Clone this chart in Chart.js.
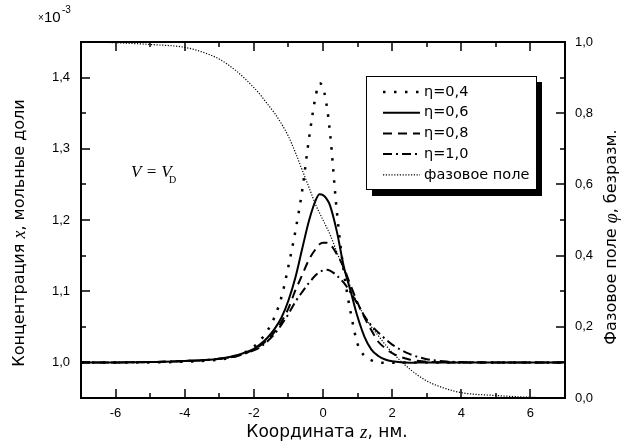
<!DOCTYPE html>
<html>
<head>
<meta charset="utf-8">
<script src="https://cdn.jsdelivr.net/npm/chart.js@4/dist/chart.umd.min.js"></script>
<style>
  body { margin: 0; background: #fff; }
  canvas { display: block; }
</style>
</head>
<body>
<canvas id="profiles" width="627" height="448"></canvas>
<script>
// coordinate z, nm
const zGrid = [-7, -6, -5, -4, -3.5, -3, -2.5, -2, -1.8, -1.6, -1.4, -1.2, -1.0, -0.8, -0.6, -0.4, -0.2, -0.1, 0,
  0.1, 0.2, 0.4, 0.6, 0.8, 1.0, 1.2, 1.4, 1.6, 1.8, 2.0, 2.5, 3, 3.5, 4, 5, 6, 7];

// concentration x (x10^-3) for each eta
const eta04 = [1.000, 1.000, 1.000, 1.001, 1.002, 1.004, 1.009, 1.022, 1.032, 1.045, 1.064, 1.092, 1.135, 1.184, 1.242, 1.316, 1.377, 1.392, 1.386,
  1.363, 1.324, 1.212, 1.128, 1.070, 1.026, 1.009, 1.003, 1.000, 0.9995, 0.9995, 1.000, 1.000, 1.000, 1.000, 1.000, 1.000, 1.000];
const eta06 = [1.000, 1.000, 1.0005, 1.002, 1.003, 1.005, 1.010, 1.019, 1.026, 1.035, 1.047, 1.063, 1.087, 1.119, 1.160, 1.200, 1.229, 1.236, 1.235,
  1.230, 1.221, 1.184, 1.135, 1.100, 1.064, 1.036, 1.018, 1.009, 1.004, 1.0015, 0.9995, 1.000, 1.000, 1.000, 1.000, 1.000, 1.000];
const eta08 = [1.000, 1.000, 1.0005, 1.002, 1.003, 1.005, 1.009, 1.018, 1.024, 1.032, 1.043, 1.057, 1.076, 1.101, 1.123, 1.145, 1.160, 1.166, 1.168,
  1.168, 1.166, 1.152, 1.133, 1.108, 1.084, 1.063, 1.045, 1.029, 1.020, 1.013, 1.004, 1.001, 1.000, 1.000, 1.000, 1.000, 1.000];
const eta10 = [1.000, 1.000, 1.0005, 1.002, 1.003, 1.005, 1.009, 1.017, 1.022, 1.030, 1.040, 1.053, 1.068, 1.085, 1.099, 1.112, 1.123, 1.127, 1.129,
  1.130, 1.129, 1.122, 1.112, 1.098, 1.082, 1.065, 1.052, 1.042, 1.033, 1.025, 1.012, 1.0045, 1.0015, 1.0005, 1.000, 1.000, 1.000];

// phase field phi (right axis)
const phase = [1.0, 0.998, 0.993, 0.985, 0.972, 0.952, 0.918, 0.872, 0.850, 0.825, 0.800, 0.770, 0.735, 0.690, 0.640, 0.590, 0.540, 0.520, 0.500,
  0.480, 0.460, 0.410, 0.360, 0.310, 0.265, 0.230, 0.200, 0.175, 0.150, 0.128, 0.082, 0.048, 0.028, 0.015, 0.007, 0.002, 0.0];

const seriesLabels = ['\u03b7=0,4', '\u03b7=0,6', '\u03b7=0,8', '\u03b7=1,0', 'фазовое поле'];

// ticks
const xMajor = [-6, -4, -2, 0, 2, 4, 6];
const xMinor = [-5, -3, -1, 1, 3, 5];
const yMajor = [1.0, 1.1, 1.2, 1.3, 1.4];
const yMinor = [1.05, 1.15, 1.25, 1.35];
const y2Major = [0, 0.2, 0.4, 0.6, 0.8, 1.0];
const y2Minor = [0.1, 0.3, 0.5, 0.7, 0.9];

const toPts = vals => vals.map((v, i) => ({ x: zGrid[i], y: v }));
const comma = v => v.toFixed(1).replace('.', ',');

function drawRuns(ctx, runs, x, y, angle) {
  ctx.save();
  ctx.translate(x, y);
  ctx.rotate(angle);
  let total = 0;
  runs.forEach(r => { ctx.font = r.font; r.w = ctx.measureText(r.text).width; total += r.w; });
  let cx = -total / 2;
  ctx.textAlign = 'left';
  ctx.textBaseline = 'middle';
  ctx.fillStyle = '#000';
  runs.forEach(r => { ctx.font = r.font; ctx.fillText(r.text, cx, r.dy || 0); cx += r.w; });
  ctx.restore();
}

const decor = {
  id: 'decor',
  afterDraw(chart) {
    const c = chart.ctx, a = chart.chartArea, sx = chart.scales.x, sy = chart.scales.y, sy2 = chart.scales.y2;
    c.save();
    c.strokeStyle = '#000';
    c.setLineDash([]);
    c.lineWidth = 1.5;

    // inward ticks on all four sides
    c.beginPath();
    [[xMajor, 9], [xMinor, 5]].forEach(([list, len]) => list.forEach(v => {
      const px = Math.round(sx.getPixelForValue(v));
      c.moveTo(px, a.bottom); c.lineTo(px, a.bottom - len);
      c.moveTo(px, a.top); c.lineTo(px, a.top + len);
    }));
    [[yMajor, 9], [yMinor, 5]].forEach(([list, len]) => list.forEach(v => {
      const py = Math.round(sy.getPixelForValue(v));
      c.moveTo(a.left, py); c.lineTo(a.left + len, py);
    }));
    [[y2Major, 9], [y2Minor, 5]].forEach(([list, len]) => list.forEach(v => {
      const py = Math.round(sy2.getPixelForValue(v));
      c.moveTo(a.right, py); c.lineTo(a.right - len, py);
    }));
    c.stroke();

    // frame
    c.lineWidth = 2;
    c.strokeRect(a.left, a.top, a.right - a.left, a.bottom - a.top);

    // legend box with shadow
    const lx = 366, ly = 76, lw = 170, lh = 113;
    c.fillStyle = '#000';
    c.fillRect(lx + 6, ly + 6, lw, lh + 1);
    c.fillStyle = '#fff';
    c.fillRect(lx, ly, lw, lh);
    c.lineWidth = 1;
    c.strokeRect(lx + 0.5, ly + 0.5, lw, lh);
    chart.data.datasets.forEach((ds, i) => {
      const ry = ly + 16 + i * 20.7;
      c.beginPath();
      c.lineWidth = ds.borderWidth;
      c.setLineDash(ds.borderDash || []);
      c.moveTo(383, ry); c.lineTo(420, ry);
      c.stroke();
      c.setLineDash([]);
      c.fillStyle = '#000';
      c.font = '14.5px "DejaVu Sans"';
      c.textAlign = 'left';
      c.textBaseline = 'middle';
      c.fillText(ds.label, 424, ry);
    });
    c.restore();

    // axis titles
    const sans = '16px "DejaVu Sans"';
    const ital = 'italic 18px "Liberation Serif"';
    drawRuns(c, [{ text: 'Концентрация ', font: sans }, { text: 'x', font: ital }, { text: ', мольные доли', font: sans }], 20, 233, -Math.PI / 2);
    drawRuns(c, [{ text: 'Фазовое поле ', font: sans }, { text: '\u03c6', font: ital }, { text: ', безразм.', font: sans }], 612, 237, -Math.PI / 2);
    drawRuns(c, [{ text: 'Координата ', font: '17px "DejaVu Sans"' }, { text: 'z', font: 'italic 19px "Liberation Serif"' }, { text: ', нм.', font: '17px "DejaVu Sans"' }], 327, 433, 0);

    // multiplier and annotation
    c.save();
    c.fillStyle = '#000';
    c.textAlign = 'left';
    c.textBaseline = 'alphabetic';
    c.font = '10px "Liberation Sans"';
    c.fillText('\u00d7', 38, 21);
    c.font = '15px "Liberation Sans"';
    c.fillText('10', 44, 22);
    c.font = '10px "Liberation Sans"';
    c.fillText('-3', 62, 13);
    c.font = 'italic 17px "Liberation Serif"';
    c.fillText('V = V', 131, 177);
    c.font = '10px "Liberation Serif"';
    c.fillText('D', 169, 183);
    c.restore();
  }
};

new Chart(document.getElementById('profiles').getContext('2d'), {
  type: 'line',
  data: {
    datasets: [
      { label: seriesLabels[0], data: toPts(eta04), yAxisID: 'y', borderColor: '#000', borderWidth: 2.5, borderDash: [2.5, 8.5] },
      { label: seriesLabels[1], data: toPts(eta06), yAxisID: 'y', borderColor: '#000', borderWidth: 2 },
      { label: seriesLabels[2], data: toPts(eta08), yAxisID: 'y', borderColor: '#000', borderWidth: 2, borderDash: [9, 6] },
      { label: seriesLabels[3], data: toPts(eta10), yAxisID: 'y', borderColor: '#000', borderWidth: 2, borderDash: [9, 4, 2, 4] },
      { label: seriesLabels[4], data: toPts(phase), yAxisID: 'y2', borderColor: '#000', borderWidth: 1.2, borderDash: [1.2, 1.6] }
    ]
  },
  options: {
    responsive: false,
    animation: false,
    layout: { padding: { top: 42, left: 0, right: 0, bottom: 0 } },
    elements: { point: { radius: 0 }, line: { cubicInterpolationMode: 'monotone', fill: false } },
    plugins: { legend: { display: false }, tooltip: { enabled: false } },
    scales: {
      x: {
        type: 'linear', min: -7, max: 7,
        grid: { display: false, drawTicks: false },
        border: { display: false },
        afterBuildTicks: s => { s.ticks = xMajor.map(v => ({ value: v })); },
        afterFit: s => { s.height = 50; },
        ticks: { padding: 8, color: '#000', font: { family: 'Liberation Sans', size: 13 }, callback: v => String(v) }
      },
      y: {
        position: 'left', min: 0.95, max: 1.45,
        grid: { display: false, drawTicks: false },
        border: { display: false },
        afterBuildTicks: s => { s.ticks = yMajor.map(v => ({ value: v })); },
        afterFit: s => { s.width = 81; },
        ticks: { padding: 11, color: '#000', font: { family: 'Liberation Sans', size: 13 }, callback: v => comma(v) }
      },
      y2: {
        position: 'right', min: 0, max: 1,
        grid: { display: false, drawTicks: false },
        border: { display: false },
        afterBuildTicks: s => { s.ticks = y2Major.map(v => ({ value: v })); },
        afterFit: s => { s.width = 62; },
        ticks: { padding: 10, color: '#000', font: { family: 'Liberation Sans', size: 13 }, callback: v => comma(v) }
      }
    }
  },
  plugins: [decor]
});
</script>
</body>
</html>
